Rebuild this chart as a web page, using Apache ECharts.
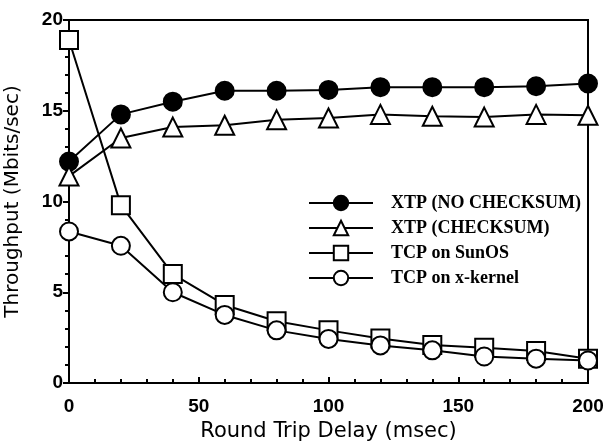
<!DOCTYPE html>
<html>
<head>
<meta charset="utf-8">
<script src="https://cdn.jsdelivr.net/npm/echarts@6/dist/echarts.min.js"></script>
<style>
  html, body { margin: 0; padding: 0; background: #fff; }
  #chart { width: 605px; height: 443px; }
</style>
</head>
<body>
<div id="chart"></div>
<script>
const delays = [0, 20, 40, 60, 80, 100, 120, 140, 160, 180, 200]
const xtpNoChecksum = [12.2, 14.8, 15.5, 16.1, 16.1, 16.15, 16.3, 16.3, 16.3, 16.35, 16.5]
const xtpChecksum = [11.4, 13.5, 14.1, 14.2, 14.5, 14.6, 14.8, 14.7, 14.65, 14.8, 14.75]
const tcpSunOS = [18.9, 9.8, 6.0, 4.3, 3.4, 2.9, 2.45, 2.1, 1.94, 1.76, 1.34]
const tcpXKernel = [8.35, 7.56, 5.0, 3.75, 2.9, 2.43, 2.07, 1.8, 1.46, 1.34, 1.24]

const names = ['XTP (NO CHECKSUM)', 'XTP (CHECKSUM)', 'TCP on SunOS', 'TCP on x-kernel']

const pairs = arr => delays.map((d, i) => [d, arr[i]])

function makeSeries(name, data, symbol, filled) {
  return {
    name,
    type: 'line',
    data: pairs(data),
    symbol,
    symbolSize: symbol === 'triangle' ? 19 : 18,
    lineStyle: { color: '#000', width: 2 },
    itemStyle: {
      color: filled ? '#000' : '#fff',
      borderColor: '#000',
      borderWidth: 2
    },
    emphasis: { disabled: true }
  }
}

const chart = echarts.init(document.getElementById('chart'))
chart.setOption({
  animation: false,
  grid: {
    left: 69, right: 17, top: 20, bottom: 60,
    outerBoundsMode: 'none',
    show: true, borderColor: '#000', borderWidth: 2
  },
  legend: {
    left: 303, top: 189,
    orient: 'vertical',
    itemWidth: 64, itemHeight: 18, itemGap: 7,
    data: names,
    textStyle: {
      fontFamily: 'Liberation Serif', fontWeight: 'bold', fontSize: 18, color: '#000',
      padding: [0, 0, 0, 13]
    }
  },
  xAxis: {
    type: 'value',
    min: 0, max: 200, interval: 50,
    name: 'Round Trip Delay (msec)',
    nameLocation: 'middle', nameGap: 38,
    nameTextStyle: { fontFamily: 'DejaVu Sans', fontSize: 21, color: '#000' },
    axisLine: { show: true, lineStyle: { color: '#000', width: 2 } },
    axisTick: { show: true, inside: true, length: 6, lineStyle: { color: '#000', width: 2 } },
    minorTick: { show: true, splitNumber: 5, length: 4, lineStyle: { color: '#000', width: 2 } },
    splitLine: { show: false },
    axisLabel: {
      fontFamily: 'Liberation Sans', fontWeight: 'bold', fontSize: 19, color: '#000', margin: 14
    }
  },
  yAxis: {
    type: 'value',
    min: 0, max: 20, interval: 5,
    name: 'Throughput (Mbits/sec)',
    nameLocation: 'middle', nameGap: 46,
    nameTextStyle: { fontFamily: 'DejaVu Sans', fontSize: 20, color: '#000' },
    axisLine: { show: true, lineStyle: { color: '#000', width: 2 } },
    axisTick: { show: true, inside: false, length: 6, lineStyle: { color: '#000', width: 2 } },
    minorTick: { show: true, splitNumber: 5, length: 4, lineStyle: { color: '#000', width: 2 } },
    splitLine: { show: false },
    axisLabel: {
      fontFamily: 'Liberation Sans', fontWeight: 'bold', fontSize: 19, color: '#000', margin: 6
    }
  },
  series: [
    makeSeries(names[0], xtpNoChecksum, 'circle', true),
    makeSeries(names[1], xtpChecksum, 'triangle', false),
    makeSeries(names[2], tcpSunOS, 'rect', false),
    makeSeries(names[3], tcpXKernel, 'circle', false)
  ]
})
</script>
</body>
</html>
